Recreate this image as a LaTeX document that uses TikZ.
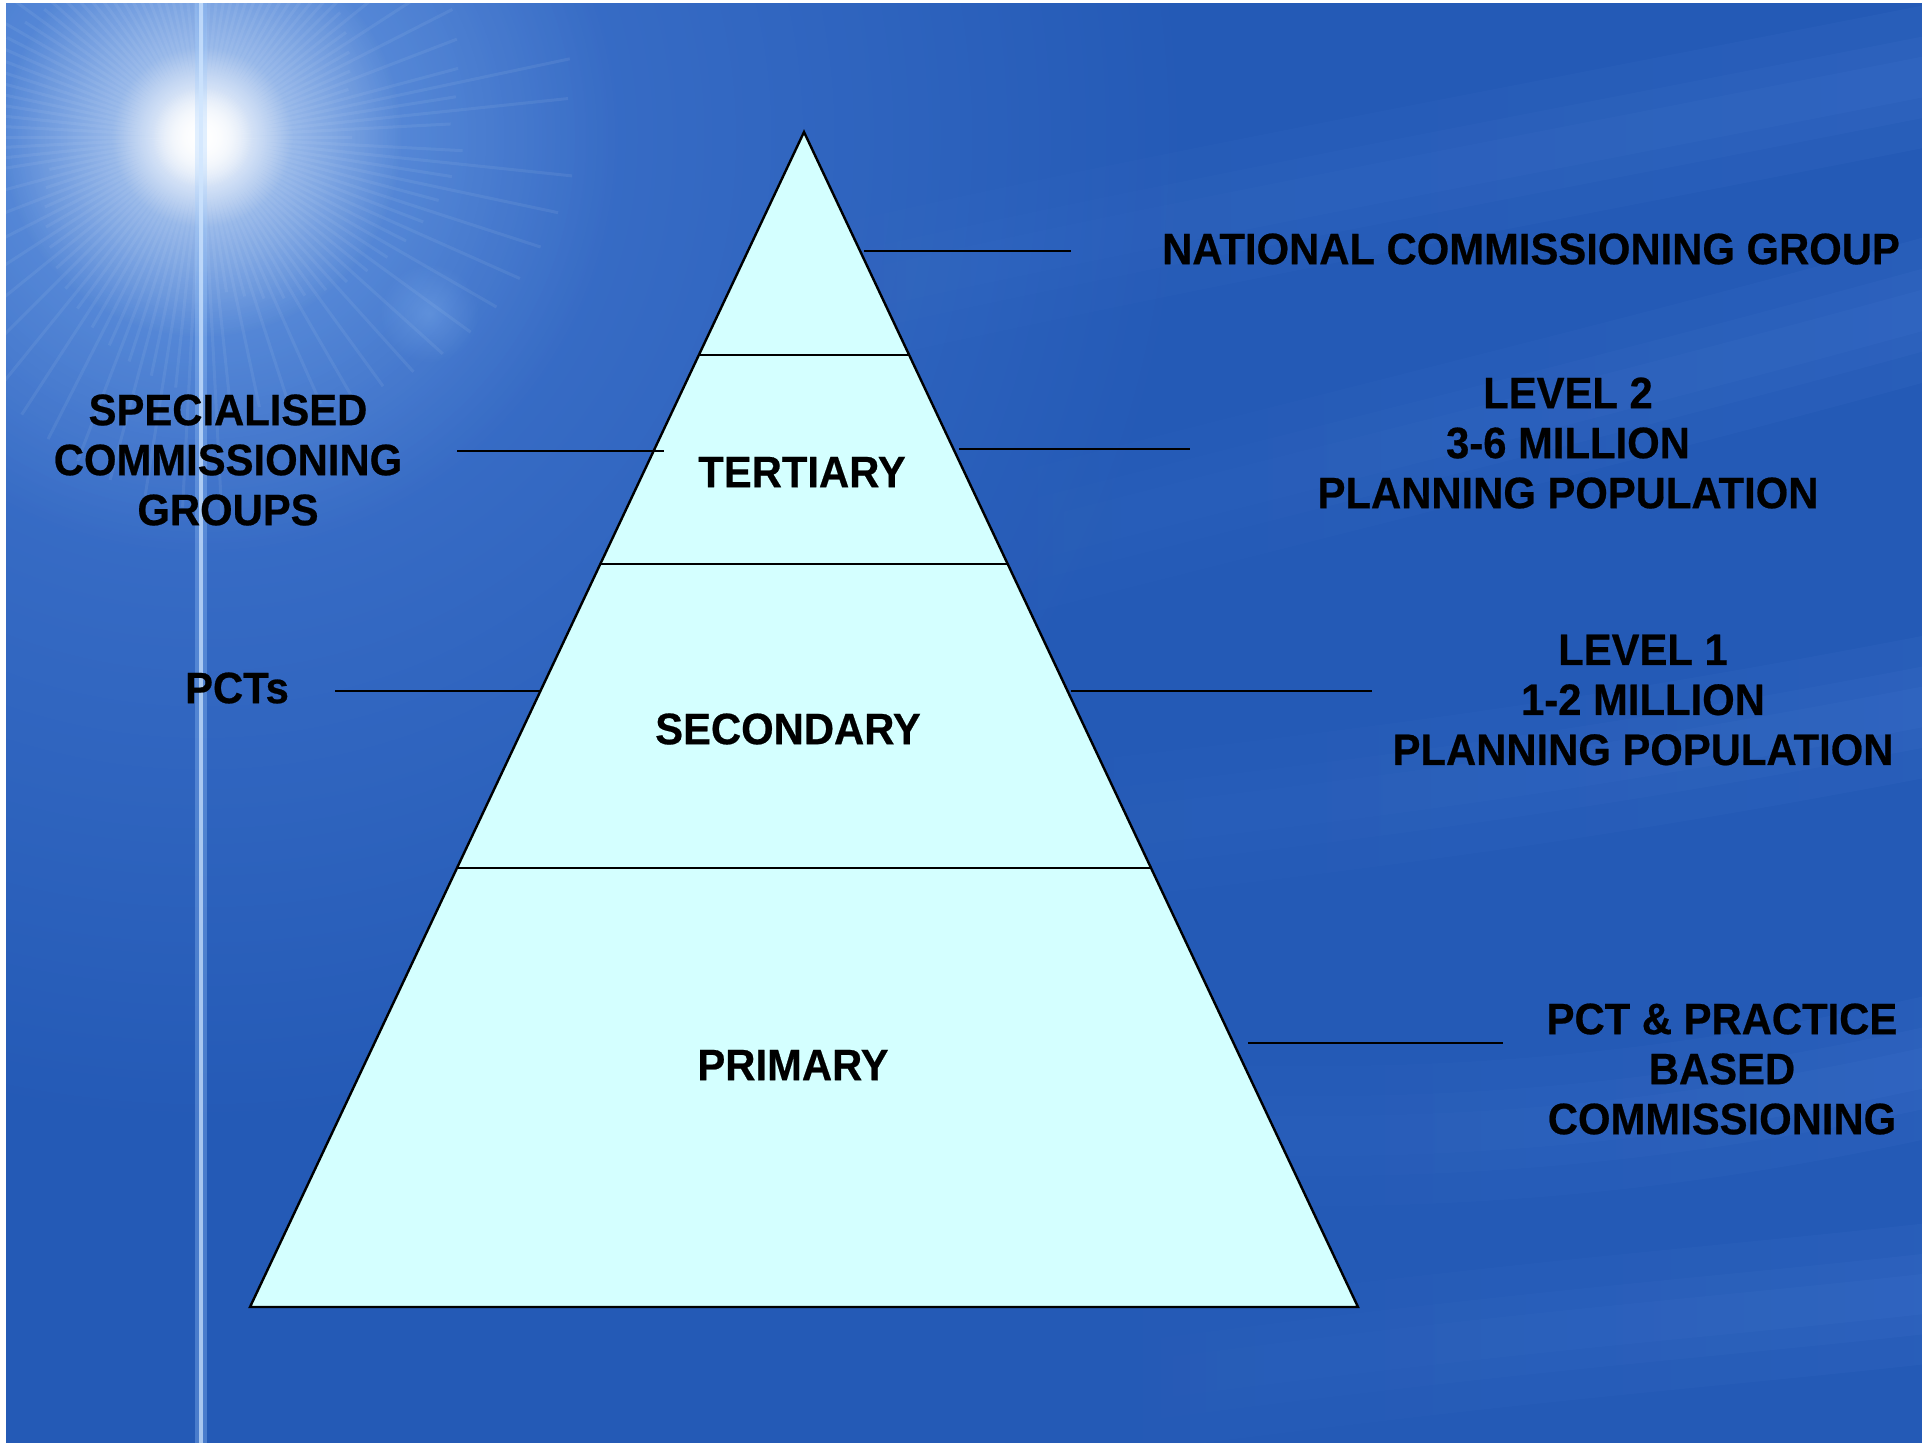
\documentclass[tikz,border=0pt]{standalone}
\usepackage{fontspec}
\setmainfont{Liberation Sans}[FakeStretch=0.95]
\newfontfamily\heavy{Liberation Sans Bold}[FakeStretch=0.95, FakeBold=0.5]
\usepackage{tikz}
\usetikzlibrary{calc,fadings}
\definecolor{bgblue}{RGB}{36,90,182}
\definecolor{bandblue}{RGB}{90,140,225}
\definecolor{glowblue}{RGB}{160,205,255}
\definecolor{pyrfill}{RGB}{212,255,255}
\tikzfading[name=glowfade, inner color=transparent!0, outer color=transparent!100]
\tikzfading[name=fadein, left color=transparent!100, right color=transparent!0]
\tikzset{every picture/.append style={x=0.5pt,y=-0.5pt}}
\tikzset{edge/.style={line width=1.2pt, black, line join=miter}}
\tikzset{lead/.style={line width=1pt, black}}
\tikzset{tier/.style={font=\fontsize{22}{25}\heavy}}
\tikzset{note/.style={font=\fontsize{22}{25}\heavy, align=center}}
\tikzset{band/.style={bandblue, line width=#1, opacity=0.09, path fading=fadein}}
\tikzset{band/.default=40}
\begin{document}
\begin{tikzpicture}
%slide background: blue sky with a star and soft waves
\useasboundingbox (0,0) rectangle (1922,1446);
\fill[white] (0,0) rectangle (1922,1446);
\begin{scope}
\clip (6,3) rectangle (1922,1443);
\fill[bgblue] (6,3) rectangle (1922,1443);
\coordinate (star) at (202,137);
\fill[bandblue, opacity=0.6, path fading=glowfade] (star) circle (1000);
% soft waves on the right
\foreach \w in {70,40,20}{
\draw[band=\w] (500,380) .. controls (900,270) and (1300,200) .. (1960,70);
\draw[band=\w] (800,600) .. controls (1300,470) and (1600,400) .. (1960,300);
\draw[band=\w] (900,850) .. controls (1400,800) and (1650,760) .. (1960,700);
\draw[band=\w] (1000,1120) .. controls (1400,1160) and (1700,1120) .. (1960,1060);
\draw[band=\w] (1000,1400) .. controls (1500,1330) and (1700,1320) .. (1960,1290);
}
\foreach \a in {0,3,...,357}{
  \pgfmathsetmacro\len{150+mod(\a*37,230)}
  \draw[white, opacity=0.07, line width=1.5] (star) -- ++(\a:\len);
}
\fill[glowblue, opacity=0.45, path fading=glowfade] (star) circle (420);
\fill[white, opacity=0.6, path fading=glowfade] (star) circle (200);
\fill[white, path fading=glowfade] (star) circle (90);
\fill[white, path fading=glowfade] (star) circle (50);
\fill[glowblue, opacity=0.25, path fading=glowfade] (429,313) circle (50);
\draw[glowblue, line width=6, opacity=0.3] (201,3) -- (201,1443);
\draw[glowblue!50!white, line width=2, opacity=0.7] (201,3) -- (201,1443);
\end{scope}
% pyramid
\coordinate (apex) at (804,132);
\coordinate (bl) at (250,1307);
\coordinate (br) at (1358,1307);
\coordinate (d1l) at ($(apex)!0.19!(bl)$);
\coordinate (d1r) at ($(apex)!0.19!(br)$);
\coordinate (d2l) at ($(apex)!0.3677!(bl)$);
\coordinate (d2r) at ($(apex)!0.3677!(br)$);
\coordinate (d3l) at ($(apex)!0.6264!(bl)$);
\coordinate (d3r) at ($(apex)!0.6264!(br)$);
\fill[pyrfill] (apex) -- (bl) -- (br) -- cycle;
\draw[edge] (d1l)--(d1r);
\draw[edge] (d2l)--(d2r);
\draw[edge] (d3l)--(d3r);
\draw[edge] (apex) -- (bl) -- (br) -- cycle;
\node (ter) at (802,472)[tier]{TERTIARY};
\node (sec) at (788,729)[tier]{SECONDARY};
\node (pri) at (793,1065)[tier]{PRIMARY};
% labels round the pyramid
\node (nat) at (1531,249)[note]{NATIONAL COMMISSIONING GROUP};
\node (lv2) at (1568,443)[note]{LEVEL 2\\3-6 MILLION\\PLANNING POPULATION};
\node (lv1) at (1643,700)[note]{LEVEL 1\\1-2 MILLION\\PLANNING POPULATION};
\node (pbc) at (1722,1069)[note]{PCT \& PRACTICE\\BASED\\COMMISSIONING};
\node (scg) at (228,460)[note]{SPECIALISED\\COMMISSIONING\\GROUPS};
\node (pct) at (237,688)[note]{PCTs};
\coordinate (n1) at (864,251);
\coordinate (n2) at (1071,251);
\coordinate (s1) at (457,451);
\coordinate (s2) at (664,451);
\coordinate (m1) at (959,449);
\coordinate (m2) at (1190,449);
\coordinate (p1) at (335,691);
\coordinate (p2) at (541,691);
\coordinate (k1) at (1071,691);
\coordinate (k2) at (1372,691);
\coordinate (b1) at (1248,1043);
\coordinate (b2) at (1503,1043);
\draw[lead] (n1)--(n2);
\draw[lead] (s1)--(s2);
\draw[lead] (m1)--(m2);
\draw[lead] (p1)--(p2);
\draw[lead] (k1)--(k2);
\draw[lead] (b1)--(b2);
\end{tikzpicture}
\end{document}
